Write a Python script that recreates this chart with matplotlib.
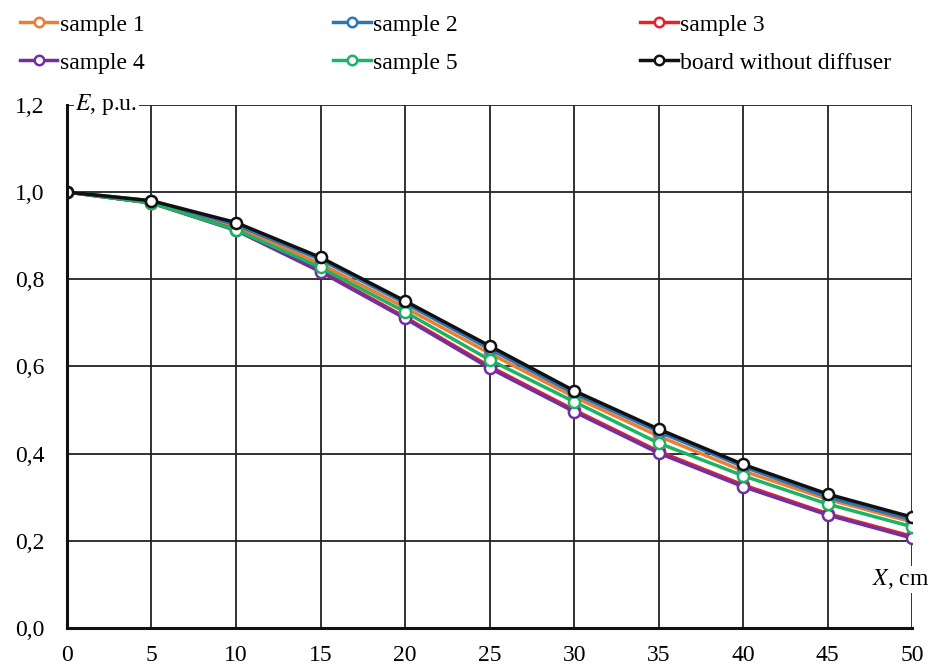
import numpy as np
import matplotlib
matplotlib.use("Agg")
import matplotlib.pyplot as plt
from matplotlib.ticker import FuncFormatter

plt.rcParams['font.family'] = ['Liberation Serif', 'DejaVu Serif']
plt.rcParams['mathtext.fontset'] = 'stix'

x_cm = [0, 5, 10, 15, 20, 25, 30, 35, 40, 45, 50]
sample1 = [1.0, 0.975, 0.920, 0.835, 0.735, 0.630, 0.530, 0.440, 0.360, 0.295, 0.243]
sample2 = [1.0, 0.980, 0.925, 0.845, 0.745, 0.640, 0.538, 0.450, 0.370, 0.300, 0.248]
sample3 = [1.0, 0.975, 0.913, 0.820, 0.713, 0.600, 0.500, 0.405, 0.328, 0.262, 0.210]
sample4 = [1.0, 0.975, 0.912, 0.817, 0.710, 0.596, 0.496, 0.401, 0.324, 0.259, 0.206]
sample5 = [1.0, 0.975, 0.913, 0.827, 0.725, 0.615, 0.519, 0.424, 0.349, 0.284, 0.232]
board = [1.0, 0.980, 0.930, 0.850, 0.750, 0.647, 0.544, 0.456, 0.375, 0.307, 0.254]

names = ['sample 1', 'sample 2', 'sample 3', 'sample 4', 'sample 5',
         'board without diffuser']
series = [sample1, sample2, sample3, sample4, sample5, board]
colors = ['#ED7D31', '#2E75B6', '#E8202A', '#7030A0', '#1DB366', '#111111']

fig = plt.figure(figsize=(9.3, 6.68), dpi=100)
ax = fig.add_axes([0.072, 0.060, 0.909, 0.783])

handles = []
for vals, name, c in zip(series, names, colors):
    h, = ax.plot(x_cm, vals, color=c, lw=2.5, marker='o', ms=8,
                 mfc='white', mec=c, mew=1.8, label=name, zorder=3)
    handles.append(h)

ax.set_xlim(0, 50)
ax.set_ylim(0, 1.2)
ax.set_xticks(range(0, 51, 5))
ax.set_yticks(np.arange(0, 1.21, 0.2))
ax.yaxis.set_major_formatter(FuncFormatter(lambda v, p: f"{v:.1f}".replace('.', ',')))
ax.tick_params(length=0, labelsize=17)
ax.tick_params(axis='x', pad=12)
ax.tick_params(axis='y', pad=16)
ax.grid(True, color='#222222', lw=1.3)
ax.set_axisbelow(True)
for s in ['top', 'right']:
    ax.spines[s].set_visible(False)
for s in ['left', 'bottom']:
    ax.spines[s].set_linewidth(2.2)
    ax.spines[s].set_color('#111111')
ax.spines['left'].set_zorder(4)

ax.text(0.01, 1.0, r"$E$, p.u.", transform=ax.transAxes, fontsize=17,
        ha='left', va='center', zorder=5,
        bbox=dict(facecolor='white', edgecolor='none', pad=1))
ax.text(1.02, 0.093, r"$X$, cm", transform=ax.transAxes, fontsize=17,
        ha='right', va='center', zorder=5,
        bbox=dict(facecolor='white', edgecolor='none', pad=1))

# three legend columns, filled row by row like the original
col_x = [0.011, 0.348, 0.678]
for i, cx in enumerate(col_x):
    leg = fig.legend(handles=[handles[i], handles[i + 3]], loc='upper left',
                     bbox_to_anchor=(cx, 0.993), frameon=False, fontsize=17,
                     handlelength=1.6, handletextpad=0.1, labelspacing=0.7,
                     borderaxespad=0.0, markerscale=0.85)

fig.savefig('out.png', dpi=100)
